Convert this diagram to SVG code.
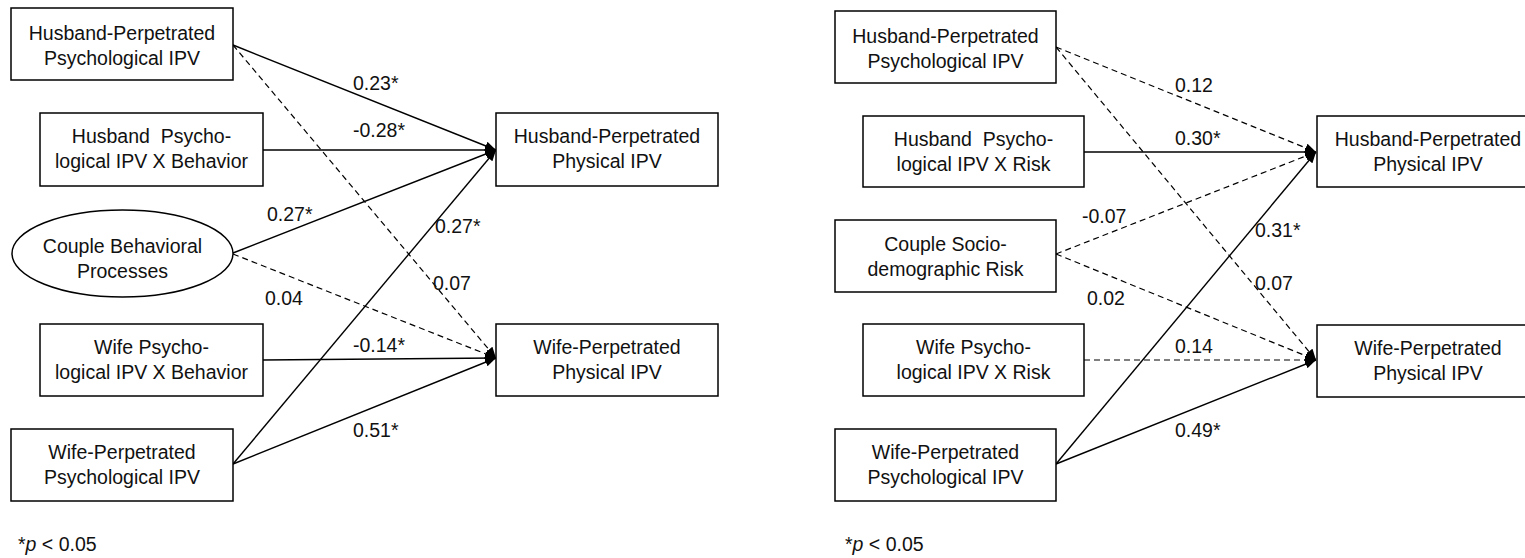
<svg xmlns="http://www.w3.org/2000/svg" width="1525" height="558" viewBox="0 0 1525 558">
<style>
.box{fill:#fff;stroke:#000;stroke-width:1.5}
.t{font-family:"Liberation Sans",Arial,sans-serif;font-size:19.5px;fill:#111}
.c{text-anchor:middle}
.l{stroke:#000;stroke-width:1.4;fill:none;marker-end:url(#ah)}
.d{stroke-dasharray:6 4;stroke-width:1.2}
</style>
<defs>
<marker id="ah" markerUnits="userSpaceOnUse" markerWidth="12" markerHeight="9" refX="11" refY="4.5" orient="auto">
<path d="M0,0 L11,4.5 L0,9 z" fill="#000"/>
</marker>
</defs>
<rect width="1525" height="558" fill="#fff"/>

<g id="connectors">
<!-- left panel -->
<line class="l" x1="233" y1="45" x2="496" y2="150"/>
<line class="l d" x1="233" y1="45" x2="496" y2="358"/>
<line class="l" x1="263" y1="150" x2="496" y2="150"/>
<line class="l" x1="233" y1="253" x2="496" y2="150"/>
<line class="l d" x1="233" y1="254" x2="496" y2="358"/>
<line class="l" x1="263" y1="360" x2="496" y2="358"/>
<line class="l" x1="233" y1="464" x2="496" y2="150"/>
<line class="l" x1="233" y1="464" x2="496" y2="358"/>
<!-- right panel -->
<line class="l d" x1="1056" y1="47" x2="1316" y2="152"/>
<line class="l d" x1="1056" y1="47" x2="1316" y2="360"/>
<line class="l" x1="1084" y1="152" x2="1316" y2="152"/>
<line class="l d" x1="1056" y1="254" x2="1316" y2="152"/>
<line class="l d" x1="1056" y1="254" x2="1316" y2="360"/>
<line class="l d" x1="1084" y1="360" x2="1316" y2="360"/>
<line class="l" x1="1056" y1="464" x2="1316" y2="152"/>
<line class="l" x1="1056" y1="464" x2="1316" y2="360"/>
</g>

<g id="labels" class="t">
<text x="353" y="90">0.23*</text>
<text x="353" y="137">-0.28*</text>
<text x="267" y="221">0.27*</text>
<text x="435" y="233">0.27*</text>
<text x="433" y="290">0.07</text>
<text x="265" y="305">0.04</text>
<text x="353" y="352">-0.14*</text>
<text x="353" y="437">0.51*</text>
<text x="1175" y="92">0.12</text>
<text x="1175" y="145">0.30*</text>
<text x="1082" y="223">-0.07</text>
<text x="1255" y="237">0.31*</text>
<text x="1255" y="290">0.07</text>
<text x="1087" y="305">0.02</text>
<text x="1175" y="353">0.14</text>
<text x="1175" y="437">0.49*</text>
</g>

<!-- left panel nodes -->
<g id="L-husband-psych">
<rect class="box" x="11" y="8" width="222" height="72"/>
<text class="t c" x="122" y="40">Husband-Perpetrated</text>
<text class="t c" x="122" y="65">Psychological IPV</text>
</g>
<g id="L-husband-int">
<rect class="box" x="40" y="113" width="223" height="73"/>
<text class="t c" x="151.5" y="143" style="white-space:pre">Husband  Psycho-</text>
<text class="t c" x="151.5" y="168">logical IPV X Behavior</text>
</g>
<g id="L-couple">
<ellipse class="box" cx="122.5" cy="253.5" rx="110.5" ry="43.5"/>
<text class="t c" x="122.5" y="253">Couple Behavioral</text>
<text class="t c" x="122.5" y="278">Processes</text>
</g>
<g id="L-wife-int">
<rect class="box" x="40" y="324" width="223" height="72"/>
<text class="t c" x="151.5" y="354">Wife Psycho-</text>
<text class="t c" x="151.5" y="379">logical IPV X Behavior</text>
</g>
<g id="L-wife-psych">
<rect class="box" x="11" y="429" width="222" height="72"/>
<text class="t c" x="122" y="459">Wife-Perpetrated</text>
<text class="t c" x="122" y="484">Psychological IPV</text>
</g>
<g id="L-husband-phys">
<rect class="box" x="496" y="113" width="222" height="73"/>
<text class="t c" x="607" y="143">Husband-Perpetrated</text>
<text class="t c" x="607" y="168">Physical IPV</text>
</g>
<g id="L-wife-phys">
<rect class="box" x="496" y="324" width="222" height="72"/>
<text class="t c" x="607" y="354">Wife-Perpetrated</text>
<text class="t c" x="607" y="379">Physical IPV</text>
</g>
<text class="t" x="18" y="551">*<tspan font-style="italic">p</tspan> &lt; 0.05</text>

<!-- right panel nodes -->
<g id="R-husband-psych">
<rect class="box" x="835" y="11" width="221" height="72"/>
<text class="t c" x="945.5" y="43">Husband-Perpetrated</text>
<text class="t c" x="945.5" y="68">Psychological IPV</text>
</g>
<g id="R-husband-int">
<rect class="box" x="863" y="116" width="221" height="71"/>
<text class="t c" x="973.5" y="146" style="white-space:pre">Husband  Psycho-</text>
<text class="t c" x="973.5" y="171">logical IPV X Risk</text>
</g>
<g id="R-couple">
<rect class="box" x="835" y="220" width="221" height="72"/>
<text class="t c" x="945.5" y="251">Couple Socio-</text>
<text class="t c" x="945.5" y="276">demographic Risk</text>
</g>
<g id="R-wife-int">
<rect class="box" x="863" y="324" width="221" height="72"/>
<text class="t c" x="973.5" y="354">Wife Psycho-</text>
<text class="t c" x="973.5" y="379">logical IPV X Risk</text>
</g>
<g id="R-wife-psych">
<rect class="box" x="835" y="429" width="221" height="72"/>
<text class="t c" x="945.5" y="459">Wife-Perpetrated</text>
<text class="t c" x="945.5" y="484">Psychological IPV</text>
</g>
<g id="R-husband-phys">
<rect class="box" x="1317" y="116" width="222" height="71"/>
<text class="t c" x="1428" y="146">Husband-Perpetrated</text>
<text class="t c" x="1428" y="171">Physical IPV</text>
</g>
<g id="R-wife-phys">
<rect class="box" x="1317" y="325" width="222" height="72"/>
<text class="t c" x="1428" y="355">Wife-Perpetrated</text>
<text class="t c" x="1428" y="380">Physical IPV</text>
</g>
<text class="t" x="845" y="551">*<tspan font-style="italic">p</tspan> &lt; 0.05</text>
</svg>
